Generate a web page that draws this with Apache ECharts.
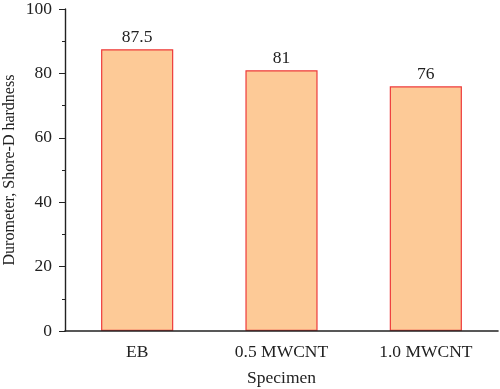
<!DOCTYPE html>
<html><head><meta charset="utf-8">
<script src="https://cdn.jsdelivr.net/npm/echarts@6/dist/echarts.min.js"></script>
<style>html,body{margin:0;padding:0;background:#fff}#c{width:500px;height:389px}</style>
</head><body><div id="c"></div>
<script>
const categories = ['EB', '0.5 MWCNT', '1.0 MWCNT'];
const hardness = [87.5, 81, 76];
const yTicks = [0, 20, 40, 60, 80, 100];

const font = 'Liberation Serif';
const ink = '#222';
const chart = echarts.init(document.getElementById('c'), null, {renderer: 'canvas'});
chart.setOption({
  animation: false,
  grid: {left: 65, right: 2, top: 9, bottom: 58, containLabel: false, outerBoundsMode: 'none'},
  xAxis: [{
    type: 'category', data: categories, z: 5,
    name: 'Specimen', nameLocation: 'middle', nameGap: 38, nameMoveOverlap: false,
    nameTextStyle: {fontFamily: font, fontSize: 17.5, color: ink},
    axisLine: {lineStyle: {color: ink, width: 1.6}},
    axisTick: {alignWithLabel: true, length: 5, lineStyle: {color: ink}},
    axisLabel: {fontFamily: font, fontSize: 17.5, color: ink, margin: 12}
  }, {
    type: 'category', data: categories, position: 'bottom', z: 5,
    axisLine: {show: false},
    axisTick: {length: 3, lineStyle: {color: ink}},
    axisLabel: {show: false}
  }],
  yAxis: {
    type: 'value', min: yTicks[0], max: yTicks[yTicks.length - 1], interval: 20, z: 5,
    name: 'Durometer, Shore-D hardness', nameLocation: 'middle', nameGap: 47, nameMoveOverlap: false,
    nameTextStyle: {fontFamily: font, fontSize: 16, color: ink},
    axisLine: {show: true, lineStyle: {color: ink, width: 1.4}},
    axisTick: {show: true, length: 6, lineStyle: {color: ink}},
    minorTick: {show: true, splitNumber: 2, length: 3, lineStyle: {color: ink}},
    splitLine: {show: false},
    axisLabel: {fontFamily: font, fontSize: 17.5, color: ink, margin: 13}
  },
  series: [{
    type: 'bar', data: hardness, xAxisIndex: 0, barWidth: '50%',
    itemStyle: {color: '#FDCA97', borderColor: '#EE3B3B', borderWidth: 1.2},
    label: {show: true, position: 'top', distance: 3, fontFamily: font, fontSize: 17.5, color: ink}
  }]
});
</script></body></html>
